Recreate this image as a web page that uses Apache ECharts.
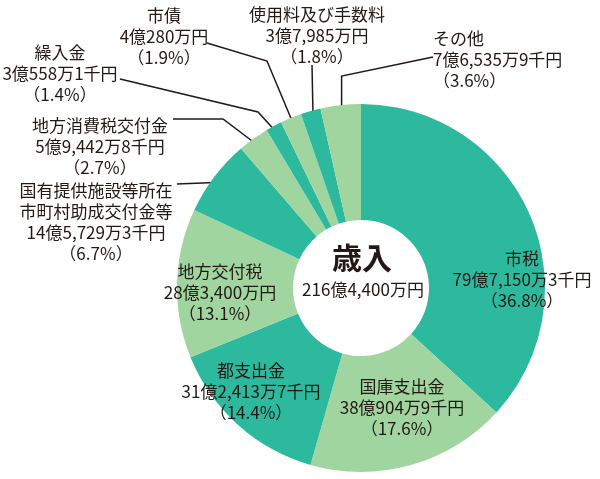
<!DOCTYPE html>
<html>
<head>
<meta charset="utf-8">
<script src="https://cdn.jsdelivr.net/npm/echarts@6/dist/echarts.min.js"></script>
<style>
  html, body { margin: 0; padding: 0; background: #fff; }
  #chart { width: 600px; height: 479px; }
</style>
</head>
<body>
<div id="chart"></div>
<script>
// 歳入の内訳（単位：千円）
const categories = [
  '市税', '国庫支出金', '都支出金', '地方交付税',
  '国有提供施設等所在\n市町村助成交付金等', '地方消費税交付金',
  '繰入金', '市債', '使用料及び手数料', 'その他'
];
const amounts = [7971503, 3809049, 3124137, 2834000, 1457293, 594428, 305581, 402800, 379850, 765359];
const percentLabels = ['36.8', '17.6', '14.4', '13.1', '6.7', '2.7', '1.4', '1.9', '1.8', '3.6'];
const centerTitle = '歳入';

const DARK = '#2cb99d', LIGHT = '#a1d59f', INK = '#231815';
const FONT = '"Noto Sans CJK JP", "Noto Sans", sans-serif';
const CX = 361, CY = 288, R_IN = 68, R_OUT = 184;

// ラベルの位置と引出線の折れ点
const labelPlace = [
  { x: 522, y: 280, align: 'center' },
  { x: 402, y: 408, align: 'center' },
  { x: 251, y: 392, align: 'center' },
  { x: 220, y: 293, align: 'center' },
  { x: 96,  y: 222, align: 'center', line: [[177, 184]] },
  { x: 100, y: 147, align: 'center', line: [[223, 119], [173, 119]] },
  { x: 60,  y: 74,  align: 'center', line: [[258, 112], [120, 79]] },
  { x: 164, y: 37,  align: 'center', line: [[267, 61], [207, 43]] },
  { x: 317, y: 36,  align: 'center', line: [[312, 65]] },
  { x: 433, y: 60,  align: 'left',   line: ['up', [347, 76], [433, 57]] },
];

const total = amounts.reduce((s, v) => s + v, 0);

// 千円単位 → 「79億7,150万3千円」形式
function yen(v) {
  const oku = Math.floor(v / 100000);
  const man = Math.floor((v % 100000) / 10);
  const sen = v % 10;
  let s = oku + '億';
  if (man) s += String(man).replace(/\B(?=(\d{3})+(?!\d))/g, ',') + '万';
  if (sen) s += sen + '千';
  return s + '円';
}

function midPoint(i, r) {
  const before = amounts.slice(0, i).reduce((s, v) => s + v, 0);
  const a = (before + amounts[i] / 2) / total * Math.PI * 2;
  return [CX + r * Math.sin(a), CY - r * Math.cos(a)];
}

const chart = echarts.init(document.getElementById('chart'), null, { renderer: 'canvas' });

chart.setOption({
  animation: false,
  graphic: [
    {
      type: 'text', x: CX + 1, y: 258,
      style: { text: centerTitle, fill: INK, font: 'bold 30px ' + FONT, textAlign: 'center', textVerticalAlign: 'middle' }
    },
    {
      type: 'text', x: CX + 2, y: 290,
      style: { text: yen(total), fill: INK, font: '17px ' + FONT, textAlign: 'center', textVerticalAlign: 'middle' }
    }
  ],
  series: [{
    type: 'pie',
    center: [CX, CY],
    radius: [R_IN, R_OUT],
    startAngle: 90,
    clockwise: true,
    avoidLabelOverlap: false,
    itemStyle: { borderWidth: 0 },
    label: {
      color: INK,
      fontSize: 17,
      lineHeight: 21,
      fontFamily: FONT,
      formatter: p => p.name + '\n' + yen(p.value) + '\n（' + percentLabels[p.dataIndex] + '%）'
    },
    labelLine: { lineStyle: { color: INK, width: 1.5 }, length: 10, length2: 10 },
    labelLayout: params => {
      const i = params.dataIndex;
      const pl = labelPlace[i];
      const out = { x: pl.x, y: pl.y, align: pl.align, verticalAlign: 'middle' };
      if (pl.line) {
        const start = midPoint(i, R_OUT - 9);
        const pts = [start];
        pl.line.forEach(p => {
          if (p === 'up') return;
          pts.push(p);
        });
        if (pl.line[0] === 'up') pts[1] = [start[0], pts[1][1]];
        out.labelLinePoints = pts;
      }
      return out;
    },
    data: categories.map((name, i) => ({
      name,
      value: amounts[i],
      itemStyle: { color: i % 2 === 0 ? DARK : LIGHT },
      label: { position: i < 4 ? 'inside' : 'outside' },
      labelLine: { show: i >= 4 }
    }))
  }]
});
</script>
</body>
</html>
